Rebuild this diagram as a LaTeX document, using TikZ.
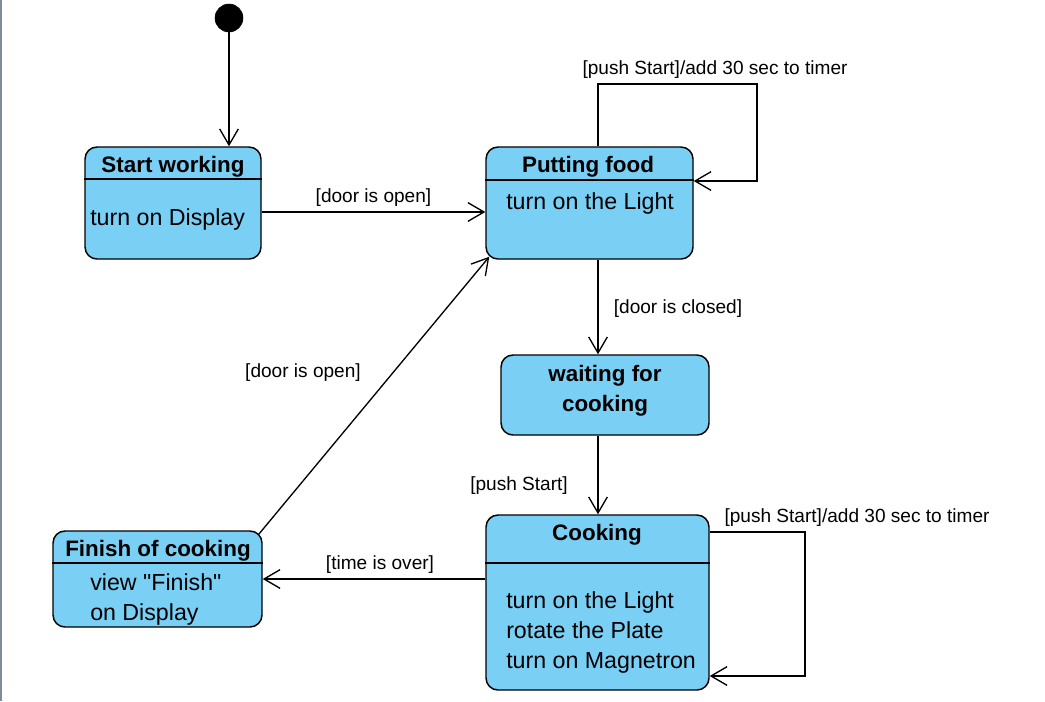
\documentclass[tikz,border=0pt]{standalone}
\usepackage{fontspec}
\setmainfont{Liberation Sans}
\usetikzlibrary{arrows.meta}
\definecolor{stateblue}{RGB}{122,207,245}
\definecolor{edgegray}{RGB}{128,138,155}
\tikzstyle{statebox}=[draw, rounded corners=9pt, fill=stateblue, line width=1.1pt, inner sep=0pt]
\tikzstyle{startdot}=[circle, fill=black, draw, minimum size=21pt, inner sep=0pt]
\tikzstyle{title}=[font=\fontsize{16.8}{22.5}\selectfont\bfseries, align=center, inner sep=0pt]
\tikzstyle{body}=[font=\fontsize{17.4}{22.5}\selectfont, align=left, anchor=west, inner sep=0pt]
\tikzstyle{guard}=[font=\fontsize{14.3}{17}\selectfont, inner sep=0pt]
\tikzstyle{edge}=[draw, line width=1pt, -{Straight Barb[length=12pt,width=14pt]}]
\tikzstyle{divider}=[draw, line width=1pt]

\begin{document}
\begin{tikzpicture}[x=0.75pt, y=-0.75pt]

    \useasboundingbox (0,0) rectangle (1045,701);
    \draw[edgegray, line width=1.2pt] (1,0) -- (1,701);

    \node[startdot] (init) at (229,18) {};

    \foreach \name/\x/\y/\w/\h in {start/173/203/176/112, food/589.5/203/207/112,
        wait/605/395/208/80, cook/597.5/602.5/223/175, finish/157.5/579/209/96}
        \node[statebox, minimum width=\w*0.75pt, minimum height=\h*0.75pt] (\name) at (\x,\y) {};

    \foreach \name/\y in {start/179, food/180, cook/563, finish/563}
        \path[divider] (\name.west |- 0,\y) -- (\name.east |- 0,\y);

    \foreach \name/\x/\y/\txt in {start/173/166.5/{Start working}, food/588/166.5/{Putting food},
        wait/605/390.5/{waiting for\\cooking}, cook/597/534.5/{Cooking}, finish/158/550.5/{Finish of cooking}}
        \node[title] (\name-title) at (\x,\y) {\txt};

    \node[body] (start-do) at (90,219.5) {turn on Display};
    \node[body] (food-do) at (506,203.5) {turn on the Light};
    \node[body] (cook-do) at (506,632.5) {turn on the Light\\rotate the Plate\\turn on Magnetron};
    \node[body] (finish-do) at (90,599.5) {view \textquotedbl Finish\textquotedbl\\on Display};

    \path[edge] (init) -- (init |- start.north);

    \path[edge] (start.east |- 0,212) -- node[guard, above=4pt] (g1) {[door is open]} (food.west |- 0,212);

    \path[edge] (food.north -| 598,0) |- (757,84) |- (food.east |- 0,181);
    \node[guard] (g2) at (715,70) {[push Start]/add 30 sec to timer};

    \path[edge] (food.south -| 598,0) -- (wait.north -| 598,0);
    \node[guard] (g3) at (678,309) {[door is closed]};

    \path[edge] (wait.south -| 598,0) -- (cook.north -| 598,0);
    \node[guard] (g4) at (519,486) {[push Start]};

    \path[edge] (cook.east |- 0,532) -| (805,676) -- (cook.east |- 0,676);
    \node[guard] (g5) at (857,518) {[push Start]/add 30 sec to timer};

    \path[edge] (cook.west |- 0,579) -- (finish.east);
    \node[guard] (g6) at (380,565) {[time is over]};

    \path[edge] ([shift={(-4,4)}]finish.north east) -- ([shift={(4,-3)}]food.south west);
    \node[guard] (g7) at (303,373) {[door is open]};

\end{tikzpicture}
\end{document}
